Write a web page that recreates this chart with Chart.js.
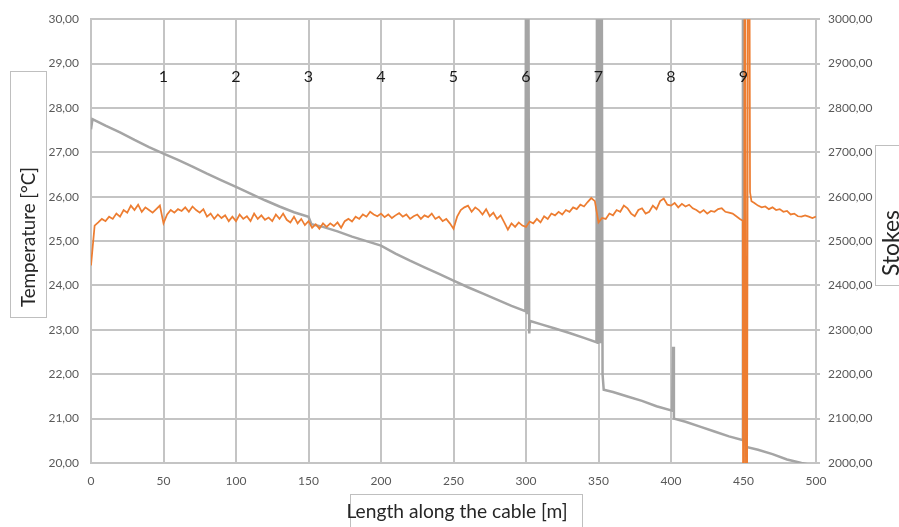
<!DOCTYPE html>
<html>
<head>
<meta charset="utf-8">
<script src="https://cdn.jsdelivr.net/npm/chart.js@4.4.1/dist/chart.umd.min.js"></script>
<style>
  html, body { margin: 0; padding: 0; background: #fff; }
  #wrap { width: 899px; height: 527px; position: relative; }
</style>
</head>
<body>
<div id="wrap"><canvas id="chart"></canvas></div>
<script>
// ========================================
// 데이터
// ========================================

// 온도 [°C] - 주황색 선, 2.5 m 간격 + 450 m 부근 스파이크
const tempX = [
  0, 2.5, 5, 7.5, 10, 12.5, 15, 17.5, 20, 22.5, 25, 27.5, 30, 32.5, 35, 37.5, 40, 42.5, 45, 47.5,
  50, 52.5, 55, 57.5, 60, 62.5, 65, 67.5, 70, 72.5, 75, 77.5, 80, 82.5, 85, 87.5, 90, 92.5, 95, 97.5,
  100, 102.5, 105, 107.5, 110, 112.5, 115, 117.5, 120, 122.5, 125, 127.5, 130, 132.5, 135, 137.5, 140, 142.5, 145, 147.5,
  150, 152.5, 155, 157.5, 160, 162.5, 165, 167.5, 170, 172.5, 175, 177.5, 180, 182.5, 185, 187.5, 190, 192.5, 195, 197.5,
  200, 202.5, 205, 207.5, 210, 212.5, 215, 217.5, 220, 222.5, 225, 227.5, 230, 232.5, 235, 237.5, 240, 242.5, 245, 247.5,
  250, 252.5, 255, 257.5, 260, 262.5, 265, 267.5, 270, 272.5, 275, 277.5, 280, 282.5, 285, 287.5, 290, 292.5, 295, 297.5,
  300, 302.5, 305, 307.5, 310, 312.5, 315, 317.5, 320, 322.5, 325, 327.5, 330, 332.5, 335, 337.5, 340, 342.5, 345, 347.5,
  350, 352.5, 355, 357.5, 360, 362.5, 365, 367.5, 370, 372.5, 375, 377.5, 380, 382.5, 385, 387.5, 390, 392.5, 395, 397.5,
  400, 402.5, 405, 407.5, 410, 412.5, 415, 417.5, 420, 422.5, 425, 427.5, 430, 432.5, 435, 437.5, 440, 442.5, 445, 447.5,
  449.5, 450, 451, 452, 453.5, 454.5, 455.5, 457.5, 460, 462.5, 465, 467.5, 470, 472.5, 475, 477.5, 480, 482.5, 485, 487.5,
  490, 492.5, 495, 497.5, 500
];
const tempY = [
  24.45, 25.35, 25.42, 25.5, 25.45, 25.55, 25.5, 25.62, 25.55, 25.7, 25.64, 25.8, 25.7, 25.82, 25.66, 25.76, 25.7, 25.64, 25.72, 25.8,
  25.4, 25.6, 25.7, 25.64, 25.72, 25.68, 25.76, 25.66, 25.78, 25.7, 25.64, 25.72, 25.55, 25.62, 25.5, 25.6, 25.52, 25.58, 25.45, 25.55,
  25.45, 25.6, 25.5, 25.56, 25.45, 25.62, 25.5, 25.58, 25.48, 25.53, 25.45, 25.6, 25.5, 25.62, 25.48, 25.42, 25.55, 25.4, 25.5, 25.36,
  25.45, 25.3, 25.38, 25.28, 25.4, 25.32, 25.4, 25.34, 25.42, 25.3, 25.45, 25.5, 25.44, 25.55, 25.5, 25.6, 25.55, 25.66, 25.6, 25.56,
  25.62, 25.54, 25.6, 25.52, 25.58, 25.63, 25.55, 25.6, 25.5, 25.56, 25.6, 25.5, 25.58, 25.54, 25.62, 25.5, 25.55, 25.45, 25.5, 25.4,
  25.28, 25.55, 25.7, 25.76, 25.8, 25.66, 25.76, 25.7, 25.6, 25.72, 25.56, 25.64, 25.5, 25.58, 25.42, 25.26, 25.4, 25.32, 25.42, 25.35,
  25.32, 25.44, 25.4, 25.5, 25.42, 25.56, 25.5, 25.62, 25.58, 25.66, 25.6, 25.7, 25.66, 25.76, 25.72, 25.82, 25.78, 25.88, 25.97, 25.9,
  25.42, 25.52, 25.5, 25.62, 25.58, 25.7, 25.66, 25.8, 25.74, 25.62, 25.56, 25.7, 25.74, 25.62, 25.66, 25.8, 25.72, 25.9, 25.96, 25.82,
  25.8, 25.86, 25.76, 25.84, 25.78, 25.82, 25.74, 25.7, 25.64, 25.7, 25.62, 25.68, 25.66, 25.72, 25.74, 25.66, 25.64, 25.62, 25.56, 25.5,
  25.46, 10, 40, 10, 40, 26.1, 25.9, 25.86, 25.8, 25.76, 25.78, 25.72, 25.76, 25.7, 25.72, 25.66, 25.68, 25.6, 25.62, 25.56,
  25.55, 25.58, 25.55, 25.52, 25.55
];

// Stokes - 회색 선 (스파이크 포함)
const stokesX = [
  0, 1, 10, 20, 30, 40, 50, 60, 70, 80, 90, 100, 110, 120, 130, 140, 150, 152, 160, 170, 180, 190,
  200, 210, 220, 230, 240, 250, 260, 270, 280, 290, 299.6, 300, 300.6, 301.6, 302.2, 302.8, 310, 320, 330, 340,
  348.6, 349, 349.6, 350.6, 351.2, 352.2, 352.8, 353.6, 360, 370, 380, 390, 400.8, 401.4, 402, 410, 420, 430, 440,
  449.2, 449.6, 450.2, 452, 460, 470, 480, 490, 496
];
const stokesY = [
  2752, 2775, 2760, 2745, 2728, 2712, 2697, 2683, 2668, 2652, 2637, 2622, 2607, 2592, 2578, 2565, 2555, 2538, 2532, 2522, 2510, 2500,
  2490, 2472, 2456, 2441, 2426, 2411, 2396, 2382, 2368, 2354, 2342, 3200, 2335, 3200, 2292, 2320, 2313, 2303, 2293, 2282,
  2272, 3200, 2268, 3200, 2270, 3200, 2200, 2165, 2160, 2150, 2140, 2128, 2118, 2262, 2100, 2093, 2082, 2071, 2060,
  2052, 3200, 2048, 2036, 2030, 2020, 2008, 2000, 1996
];

// 구간 번호 라벨
const markerLabels = ['1', '2', '3', '4', '5', '6', '7', '8', '9'];
const markerX = [50, 100, 150, 200, 250, 300, 350, 400, 450];
const markerY = 28.71;

// 축 제목
const yTitle = 'Temperature [\u00B0C]';
const y1Title = 'Stokes';
const xTitle = 'Length along the cable [m]';

// ========================================
// 스타일
// ========================================
const GRID = '#c4c4c4';
const TICK = '#595959';
const TITLE = '#262626';
const FONT = 'Lato, "Open Sans", sans-serif';

const fmt = v => Number(v).toFixed(2).replace('.', ',');

// 글자 폭에 맞춰 폰트 크기 계산
function fitFont(ctx, text, width) {
  ctx.font = '20px ' + FONT;
  const w = ctx.measureText(text).width;
  return (20 * width / w).toFixed(1) + 'px ' + FONT;
}

// ========================================
// 축 제목 박스 + 번호 라벨 플러그인
// ========================================
const decorPlugin = {
  id: 'decor',
  afterDatasetsDraw(chart) {
    const ctx = chart.ctx;
    const xs = chart.scales.x;
    const ys = chart.scales.y;
    ctx.save();

    // 번호 라벨
    ctx.fillStyle = '#1a1a1a';
    ctx.font = '16px ' + FONT;
    ctx.textAlign = 'center';
    ctx.textBaseline = 'middle';
    markerLabels.forEach((t, i) => {
      ctx.fillText(t, xs.getPixelForValue(markerX[i]), ys.getPixelForValue(markerY));
    });

    // 제목 박스
    ctx.strokeStyle = '#bfbfbf';
    ctx.lineWidth = 1;
    ctx.strokeRect(10.5, 71.5, 36, 246);
    ctx.strokeRect(875.5, 145.5, 40, 140);
    ctx.strokeRect(350.5, 494.5, 232, 40);

    ctx.fillStyle = TITLE;

    // 왼쪽
    ctx.save();
    ctx.font = fitFont(ctx, yTitle, 140);
    ctx.translate(29, 237);
    ctx.rotate(-Math.PI / 2);
    ctx.fillText(yTitle, 0, 0);
    ctx.restore();

    // 오른쪽
    ctx.save();
    ctx.font = fitFont(ctx, y1Title, 66);
    ctx.translate(892, 243);
    ctx.rotate(-Math.PI / 2);
    ctx.fillText(y1Title, 0, 0);
    ctx.restore();

    // 아래
    ctx.font = fitFont(ctx, xTitle, 221);
    ctx.fillText(xTitle, 457, 512);

    ctx.restore();
  }
};

// ========================================
// 차트 생성
// ========================================
const tempData = tempX.map((x, i) => ({ x: x, y: tempY[i] }));
const stokesData = stokesX.map((x, i) => ({ x: x, y: stokesY[i] }));

const ctx = document.getElementById('chart').getContext('2d');
new Chart(ctx, {
  type: 'line',
  data: {
    datasets: [
      {
        label: 'Temperature',
        data: tempData,
        yAxisID: 'y',
        borderColor: '#ED7D31',
        borderWidth: 1.75,
        pointRadius: 0,
        tension: 0
      },
      {
        label: 'Stokes',
        data: stokesData,
        yAxisID: 'y1',
        borderColor: '#A5A5A5',
        borderWidth: 2.5,
        pointRadius: 0,
        tension: 0
      }
    ]
  },
  options: {
    responsive: true,
    maintainAspectRatio: false,
    animation: false,
    layout: { padding: { top: 14, left: 0, right: 0, bottom: 0 } },
    plugins: {
      legend: { display: false },
      tooltip: { enabled: false }
    },
    scales: {
      x: {
        type: 'linear',
        min: 0,
        max: 500,
        afterFit: s => { s.height = 64; },
        grid: { color: GRID, lineWidth: 2, drawTicks: false },
        border: { color: GRID, width: 2 },
        ticks: {
          stepSize: 50,
          padding: 11,
          color: TICK,
          font: { family: FONT, size: 12 },
          maxRotation: 0
        }
      },
      y: {
        position: 'left',
        min: 20,
        max: 30,
        afterFit: s => { s.width = 91; },
        grid: { color: GRID, lineWidth: 2, drawTicks: false },
        border: { color: GRID, width: 2 },
        ticks: {
          stepSize: 1,
          padding: 12,
          color: TICK,
          font: { family: FONT, size: 12 },
          callback: v => fmt(v)
        }
      },
      y1: {
        position: 'right',
        min: 2000,
        max: 3000,
        afterFit: s => { s.width = 83; },
        grid: { drawOnChartArea: false, color: GRID, lineWidth: 2, tickLength: 4 },
        border: { color: GRID, width: 2 },
        ticks: {
          stepSize: 100,
          padding: 8,
          color: TICK,
          font: { family: FONT, size: 12 },
          callback: v => fmt(v)
        }
      }
    }
  },
  plugins: [decorPlugin]
});
</script>
</body>
</html>
